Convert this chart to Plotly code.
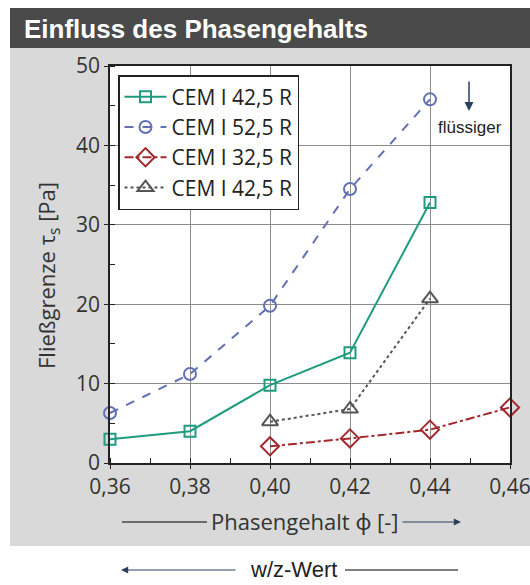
import plotly.graph_objects as go

# Phasengehalt (x) und Fliessgrenze (y) je Zement
x_42 = [0.36, 0.38, 0.40, 0.42, 0.44]
y_42 = [3.0, 4.0, 9.8, 13.9, 32.8]
x_52 = [0.36, 0.38, 0.40, 0.42, 0.44]
y_52 = [6.3, 11.2, 19.8, 34.5, 45.8]
x_32 = [0.40, 0.42, 0.44, 0.46]
y_32 = [2.1, 3.1, 4.2, 7.0]
x_42b = [0.40, 0.42, 0.44]
y_42b = [5.2, 6.8, 20.7]

names = ["CEM I 42,5 R", "CEM I 52,5 R", "CEM I 32,5 R", "CEM I 42,5 R"]
x_ticks = [0.36, 0.38, 0.40, 0.42, 0.44, 0.46]
y_ticks = [0, 10, 20, 30, 40, 50]

W, H = 530, 585
L, R, T, B = 110, 20, 66, 122
pw, ph = W - L - R, H - T - B

def px(x):  # pixel -> paper
    return (x - L) / pw

def py(y):
    return (H - B - y) / ph

fig = go.Figure()
fig.add_trace(go.Scatter(x=x_42, y=y_42, name=names[0], mode="lines+markers", cliponaxis=False,
                         line=dict(color="#1f9c80", width=2),
                         marker=dict(symbol="square-open", size=11, color="#1f9c80", line=dict(width=2))))
fig.add_trace(go.Scatter(x=x_52, y=y_52, name=names[1], mode="lines+markers", cliponaxis=False,
                         line=dict(color="#6470b4", width=2, dash="dash"),
                         marker=dict(symbol="circle-open", size=12, color="#6470b4", line=dict(width=2))))
fig.add_trace(go.Scatter(x=x_32, y=y_32, name=names[2], mode="lines+markers", cliponaxis=False,
                         line=dict(color="#a3282e", width=2, dash="dashdot"),
                         marker=dict(symbol="diamond-open", size=14, color="#a3282e", line=dict(width=2))))
fig.add_trace(go.Scatter(x=x_42b, y=y_42b, name=names[3], mode="lines+markers", cliponaxis=False,
                         line=dict(color="#555555", width=2, dash="dot"),
                         marker=dict(symbol="triangle-up-open", size=14, color="#555555", line=dict(width=2))))

shapes = [
    dict(type="rect", xref="paper", yref="paper", x0=px(10), x1=px(531), y0=py(546), y1=py(48),
         fillcolor="#d9d9d9", line=dict(width=0), layer="below"),
    dict(type="rect", xref="paper", yref="paper", x0=px(10), x1=px(531), y0=py(48), y1=py(8),
         fillcolor="#4a4a4a", line=dict(width=0), layer="below"),
    dict(type="rect", xref="paper", yref="paper", x0=0, x1=1, y0=0, y1=1,
         fillcolor="white", line=dict(width=0), layer="below"),
    dict(type="line", xref="paper", yref="paper", x0=px(122), x1=px(207), y0=py(522), y1=py(522),
         line=dict(color="black", width=1.2)),
    dict(type="line", xref="paper", yref="paper", x0=px(345), x1=px(458), y0=py(570), y1=py(570),
         line=dict(color="black", width=1.2)),
]

font = "Open Sans, Noto Sans, sans-serif"
annotations = [
    dict(xref="paper", yref="paper", x=px(22), y=py(29), xanchor="left", yanchor="middle", showarrow=False,
         text="<b>Einfluss des Phasengehalts</b>", font=dict(family="Liberation Sans, Arial", size=26, color="white")),
    dict(xref="paper", yref="paper", x=px(48), y=py(276), xanchor="center", yanchor="middle",
         textangle=-90, showarrow=False,
         text="Fließgrenze τ<sub>s</sub> [Pa]", font=dict(family=font, size=22, color="#333")),
    dict(xref="paper", yref="paper", x=px(305), y=py(521), xanchor="center", yanchor="middle", showarrow=False,
         text="Phasengehalt ϕ [-]", font=dict(family=font, size=22, color="#333")),
    dict(xref="paper", yref="paper", x=px(461), y=py(522), ax=-60, ay=0, showarrow=True,
         arrowhead=2, arrowsize=1.2, arrowwidth=1.2, text=""),
    dict(xref="paper", yref="paper", x=px(293), y=py(569), xanchor="center", yanchor="middle", showarrow=False,
         text="w/z-Wert", font=dict(family="Liberation Sans, Arial", size=22, color="#222")),
    dict(xref="paper", yref="paper", x=px(121), y=py(570), ax=116, ay=0, showarrow=True,
         arrowhead=2, arrowsize=1.2, arrowwidth=1.2, text=""),
    dict(xref="paper", yref="paper", x=px(470), y=py(127), xanchor="center", yanchor="middle", showarrow=False,
         text="flüssiger", font=dict(family="Liberation Sans, Arial", size=17, color="#222")),
    dict(xref="paper", yref="paper", x=px(469), y=py(111), ax=0, ay=-31, showarrow=True,
         arrowhead=2, arrowsize=1.2, arrowwidth=1.5, text=""),
]

fig.update_layout(
    width=W, height=H, margin=dict(l=L, r=R, t=T, b=B),
    paper_bgcolor="white", plot_bgcolor="rgba(0,0,0,0)",
    separators=",.",
    showlegend=True,
    legend=dict(x=px(118), y=py(75), xanchor="left", yanchor="top", bgcolor="white",
                bordercolor="#222", borderwidth=1.5, font=dict(family=font, size=21, color="#222"),
                tracegroupgap=0, itemwidth=42),
    shapes=shapes, annotations=annotations,
)
fig.update_xaxes(range=[0.36, 0.46], tickvals=x_ticks, tickformat=".2f",
                 ticklabeloverflow="allow", automargin=False,
                 showgrid=True, gridcolor="#8c8c8c", gridwidth=1,
                 showline=True, linecolor="#222", linewidth=1.5, mirror=True,
                 ticks="outside", ticklen=4, tickcolor="#222",
                 minor=dict(dtick=0.01, ticks="inside", ticklen=5, tickcolor="#222", showgrid=False),
                 tickfont=dict(family=font, size=21, color="#333"), zeroline=False)
fig.update_yaxes(range=[0, 50], tickvals=y_ticks, automargin=False,
                 showgrid=True, gridcolor="#8c8c8c", gridwidth=1,
                 showline=True, linecolor="#222", linewidth=1.5, mirror=True,
                 ticks="outside", ticklen=4, tickcolor="#222",
                 minor=dict(dtick=5, ticks="inside", ticklen=5, tickcolor="#222", showgrid=False),
                 tickfont=dict(family=font, size=21, color="#333"), zeroline=False)

# page body has an 8px default margin; drop it so the figure sits at (0, 0)
fig.write_html("out.html", config={"displayModeBar": False},
               post_script="document.body.style.margin='0';")
